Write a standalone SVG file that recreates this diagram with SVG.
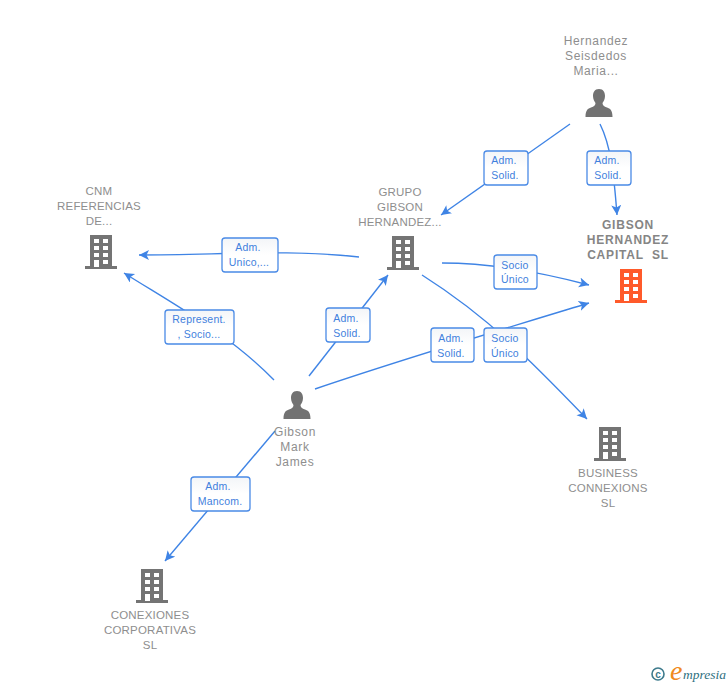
<svg xmlns="http://www.w3.org/2000/svg" width="728" height="685" viewBox="0 0 728 685">
<style>
.lbl{font-family:"Liberation Sans",Arial,sans-serif;font-size:11.5px;fill:#8e8e8e;text-anchor:middle;letter-spacing:.2px;white-space:pre}
.per{font-size:12px;letter-spacing:.65px}
.main{font-weight:bold;font-size:12px;letter-spacing:.8px;fill:#858585}
.edge{fill:none;stroke:#3f84e5;stroke-width:1.4}
.box{stroke:#4a8ae6;stroke-width:1.3;fill:url(#boxfill)}
.et{font-family:"Liberation Sans",Arial,sans-serif;font-size:10.5px;fill:#3f7fdd;text-anchor:middle;letter-spacing:.2px}
</style>
<defs>
<marker id="arr" markerWidth="12" markerHeight="12" refX="10" refY="5" orient="auto" markerUnits="userSpaceOnUse"><path d="M0 0L10 5L0 10L2.500 5Z" fill="#3f84e5"/></marker>
<linearGradient id="boxfill" x1="0" y1="0" x2="0" y2="1"><stop offset="0" stop-color="#f3f5f8"/><stop offset=".5" stop-color="#fff"/></linearGradient>
<g id="bld">
<path fill-rule="evenodd" d="M-11 -17H11V14H16V17H-16V14H-11ZM-7 -13V-9H-2V-13ZM2 -13V-9H7V-13ZM-7 -6V-2H-2V-6ZM2 -6V-2H7V-6ZM-7 1V5H-2V1ZM2 1V5H7V1ZM-7 8V15H-2V8ZM2 8V12H7V8Z"/>
</g>
<path id="per" d="M0 -14C-4.500 -14 -6 -10.500 -6 -7C-6 -3.500 -4.500 -1.500 -3.500 0C-3.500 2.500 -5 3.500 -8 4.500C-11 5.500 -13.500 7 -13.500 14H13.500C13.500 7 11 5.500 8 4.500C5 3.500 3.500 2.500 3.500 0C4.500 -1.500 6 -3.500 6 -7C6 -10.500 4.500 -14 0 -14Z"/>
</defs>
<g id="connectors">
<path class="edge" d="M570 124L441 215" marker-end="url(#arr)"/>
<path class="edge" d="M600 124C611 146 614 175 617 215" marker-end="url(#arr)"/>
<path class="edge" d="M359 257C290 249 220 255 139 255" marker-end="url(#arr)"/>
<path class="edge" d="M442 263C490 263 540 272 589 285" marker-end="url(#arr)"/>
<path class="edge" d="M422 275C490 318 535 365 587 419" marker-end="url(#arr)"/>
<path class="edge" d="M309 376L388 275" marker-end="url(#arr)"/>
<path class="edge" d="M315 389C400 360 500 330 589 303" marker-end="url(#arr)"/>
<path class="edge" d="M274 380C230 335 180 308 124 273" marker-end="url(#arr)"/>
<path class="edge" d="M275 431L165 561" marker-end="url(#arr)"/>
</g>
<g id="edge-labels">
<g><rect class="box" x="484" y="151" width="44" height="34" rx="3"/><text class="et" x="504" y="164">Adm.</text><text class="et" x="505" y="179">Solid.</text></g>
<g><rect class="box" x="587" y="151" width="44" height="34" rx="3"/><text class="et" x="607" y="164">Adm.</text><text class="et" x="608" y="179">Solid.</text></g>
<g><rect class="box" x="222" y="238" width="56" height="34" rx="3"/><text class="et" x="248" y="251">Adm.</text><text class="et" x="249" y="266">Unico,...</text></g>
<g><rect class="box" x="494" y="255" width="43" height="34" rx="3"/><text class="et" x="515" y="269">Socio</text><text class="et" x="515" y="283">Único</text></g>
<g><rect class="box" x="165" y="310" width="69" height="34" rx="3"/><text class="et" x="199" y="323">Represent.</text><text class="et" x="199" y="338">, Socio...</text></g>
<g><rect class="box" x="326" y="308" width="44" height="34" rx="3"/><text class="et" x="346" y="322">Adm.</text><text class="et" x="347" y="337">Solid.</text></g>
<g><rect class="box" x="431" y="328" width="43" height="34" rx="3"/><text class="et" x="451" y="342">Adm.</text><text class="et" x="451" y="357">Solid.</text></g>
<g><rect class="box" x="484" y="328" width="43" height="34" rx="3"/><text class="et" x="505" y="342">Socio</text><text class="et" x="505" y="357">Único</text></g>
<g><rect class="box" x="191" y="477" width="59" height="34" rx="3"/><text class="et" x="218" y="490">Adm.</text><text class="et" x="220" y="505">Mancom.</text></g>
</g>
<g id="node-hernandez"><use href="#per" x="599" y="103" fill="#727272"/><text class="lbl per" x="596" y="45">Hernandez</text><text class="lbl per" x="596" y="60">Seisdedos</text><text class="lbl per" x="596" y="75">Maria...</text></g>
<g id="node-gibson-capital"><use href="#bld" x="631" y="286" fill="#ff5a2a"/><text class="lbl main" x="628" y="229">GIBSON</text><text class="lbl main" x="628" y="244">HERNANDEZ</text><text class="lbl main" x="628" y="259">CAPITAL  SL</text></g>
<g id="node-cnm"><use href="#bld" x="101" y="252" fill="#747474"/><text class="lbl" x="99" y="195">CNM</text><text class="lbl" x="99" y="210">REFERENCIAS</text><text class="lbl" x="99" y="225">DE...</text></g>
<g id="node-grupo"><use href="#bld" x="403" y="253" fill="#747474"/><text class="lbl" x="400" y="196">GRUPO</text><text class="lbl" x="400" y="211">GIBSON</text><text class="lbl" x="400" y="226">HERNANDEZ...</text></g>
<g id="node-gibson-mark"><use href="#per" x="297" y="405" fill="#727272"/><text class="lbl per" x="295" y="436">Gibson</text><text class="lbl per" x="295" y="451">Mark</text><text class="lbl per" x="295" y="466">James</text></g>
<g id="node-business"><use href="#bld" x="610" y="444" fill="#747474"/><text class="lbl" x="608" y="477">BUSINESS</text><text class="lbl" x="608" y="492">CONNEXIONS</text><text class="lbl" x="608" y="507">SL</text></g>
<g id="node-conexiones"><use href="#bld" x="152" y="586" fill="#747474"/><text class="lbl" x="150" y="619">CONEXIONES</text><text class="lbl" x="150" y="634">CORPORATIVAS</text><text class="lbl" x="150" y="649">SL</text></g>
<g id="logo"><circle cx="658" cy="674" r="6" fill="none" stroke="#3d7a8c" stroke-width="1.600"/><text x="658" y="677.500" font-family="'Liberation Sans',sans-serif" font-size="10" font-weight="bold" fill="#3d7a8c" text-anchor="middle">c</text><text x="670" y="680" font-family="'Liberation Serif',serif" font-style="italic" font-size="28" fill="#f08a1d">e</text><text x="683" y="679" font-family="'Liberation Serif',serif" font-style="italic" font-size="13.500" fill="#2f7080">mpresia</text></g>
</svg>
